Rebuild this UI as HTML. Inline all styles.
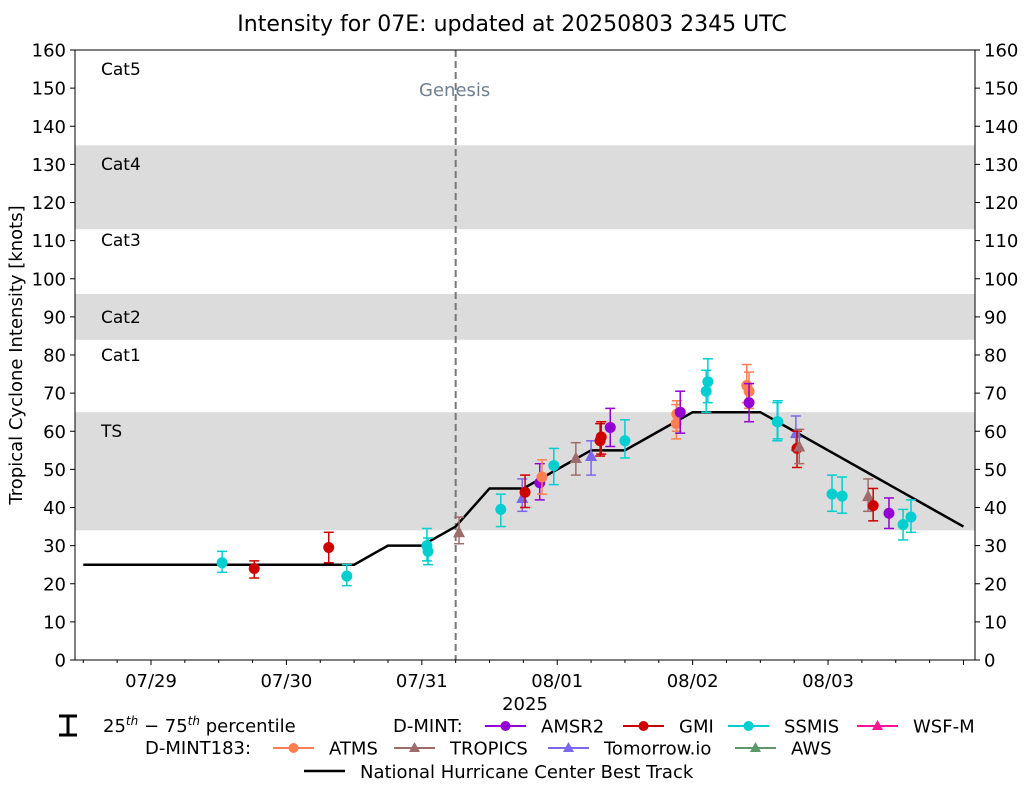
<!DOCTYPE html>
<html><head><meta charset="utf-8"><style>
body{margin:0;background:#fff;}
svg{display:block;font-family:"DejaVu Sans","Liberation Sans",sans-serif;}
</style></head><body>
<svg id="chart" width="1025" height="785" xmlns="http://www.w3.org/2000/svg"></svg>
<script>
// hours since 07/29 00Z
const bestTrackHours=[-12,36,42,48,54,60,66,72,78,84,90,96,102,108,114,120,126,132,138,144];
const bestTrackValues=[25,25,30,30,35,45,45,50,55,55,60,65,65,65,60,55,50,45,40,35];
const obsSensor=['SSMIS','GMI','GMI','SSMIS','SSMIS','SSMIS','TROPICS','SSMIS','Tomorrow.io','GMI','AMSR2','ATMS','SSMIS','TROPICS','Tomorrow.io','GMI','GMI','AMSR2','SSMIS','ATMS','ATMS','AMSR2','SSMIS','SSMIS','ATMS','ATMS','AMSR2','SSMIS','SSMIS','Tomorrow.io','GMI','TROPICS','SSMIS','SSMIS','TROPICS','GMI','AMSR2','SSMIS','SSMIS'];
const obsHours=[12.6,18.3,31.5,34.7,48.9,49.1,54.6,62.0,65.8,66.3,68.9,69.3,71.4,75.3,78.0,79.6,79.8,81.4,84.0,93.1,93.2,93.8,98.4,98.7,105.6,106.0,106.0,111.0,111.1,114.3,114.5,114.9,120.7,122.5,127.1,128.0,130.8,133.3,134.7];
const obsValues=[25.5,24,29.5,22,30,28.5,33.5,39.5,42.5,44,46.5,48,51,53,53.5,57.5,58.5,61,57.5,62,64.5,65,70.5,73,72,70.5,67.5,62.5,62.5,59.5,55.5,56,43.5,43,43,40.5,38.5,35.5,37.5];
const obsLow=[23,21.5,25.5,19.5,26,25,30.5,35,39,40,42,43.5,46,48.5,48.5,53.5,54,56,53,58,60,59.5,65,67.5,67.5,66,62.5,57.5,58,55,50.5,51.5,39,38.5,39,36.5,34.5,31.5,33.5];
const obsHigh=[28.5,26,33.5,25,34.5,32,37.5,43.5,47.5,48.5,51.5,52.5,55.5,57,57.5,62,62.5,66,63,67,68,70.5,76,79,77.5,75.5,72.5,67.5,68,64,60,60.5,48.5,48,47.5,45,42.5,39.5,42];
const dayLabels=['07/29','07/30','07/31','08/01','08/02','08/03'];
const yTicks=[0,10,20,30,40,50,60,70,80,90,100,110,120,130,140,150,160];
const genesisHour=54;

const NS='http://www.w3.org/2000/svg';
const svg=document.getElementById('chart');
const L=75,R=975,T=50,B=660;
const FS=18;
const X=h=>151+h*5.642;
const Y=v=>B-(v/160)*(B-T);
const colors={'AMSR2':'#9400d3','GMI':'#cc0000','SSMIS':'#00ced1','WSF-M':'#ff1493','ATMS':'#ff7f50','TROPICS':'#9e6d6b','Tomorrow.io':'#7b68ee','AWS':'#5b9a68'};
const tri={'TROPICS':1,'Tomorrow.io':1,'AWS':1,'WSF-M':1};
function el(tag,a,p){const e=document.createElementNS(NS,tag);for(const k in a)e.setAttribute(k,a[k]);(p||svg).appendChild(e);return e;}
function txt(s,x,y,a,p){const e=el('text',Object.assign({x:x,y:y,'font-size':FS,fill:'#000'},a||{}),p);e.textContent=s;return e;}

const bands=[[34,65],[84,96],[113,135]];
bands.forEach(b=>{const r=el('rect',{x:L,y:Y(b[1]),width:R-L,height:Y(b[0])-Y(b[1]),fill:'#dcdcdc'});
});
const cats=[['Cat5',69],['Cat4',164],['Cat3',240],['Cat2',317],['Cat1',355],['TS',431]];
cats.forEach(c=>{const t=txt(c[0],101,c[1]+6,{'font-size':17});});

const g=el('line',{x1:X(genesisHour),x2:X(genesisHour),y1:T,y2:B,stroke:'#777','stroke-width':2,'stroke-dasharray':'7,4'});

const gt=txt('Genesis',X(genesisHour)-1,96,{'font-size':18,fill:'#708090','text-anchor':'middle'});


const bt=el('polyline',{points:bestTrackHours.map((h,i)=>X(h)+','+Y(bestTrackValues[i])).join(' '),fill:'none',stroke:'#000','stroke-width':2.5});


obsHours.forEach((h,i)=>{
  const c=colors[obsSensor[i]],x=X(h);
  const gg=el('g',{});
  
  
  el('line',{x1:x,x2:x,y1:Y(obsLow[i]),y2:Y(obsHigh[i]),stroke:c,'stroke-width':1.5},gg);
  el('line',{x1:x-5,x2:x+5,y1:Y(obsLow[i]),y2:Y(obsLow[i]),stroke:c,'stroke-width':1.5},gg);
  el('line',{x1:x-5,x2:x+5,y1:Y(obsHigh[i]),y2:Y(obsHigh[i]),stroke:c,'stroke-width':1.5},gg);
  const y=Y(obsValues[i]);
  if(tri[obsSensor[i]]) el('polygon',{points:`${x},${y-6.5} ${x-6},${y+5} ${x+6},${y+5}`,fill:c},gg);
  else el('circle',{cx:x,cy:y,r:5.5,fill:c},gg);
});

const fr=el('rect',{x:L,y:T,width:R-L,height:B-T,fill:'none',stroke:'#000','stroke-width':1});

yTicks.forEach(v=>{
  const y=Y(v);
  el('line',{x1:L-5,x2:L,y1:y,y2:y,stroke:'#000'});
  el('line',{x1:R,x2:R+5,y1:y,y2:y,stroke:'#000'});
  const a=txt(String(v),L-9,y+6.5,{'text-anchor':'end'});
  const b=txt(String(v),R+9,y+6.5);
});
for(let h=-24;h<=150;h+=6){const x=X(h);if(x<L||x>R)continue;
  const major=h%24===0;
  el('line',{x1:x,x2:x,y1:B,y2:B+(major?5:3),stroke:'#000'});}
dayLabels.forEach((d,i)=>{const t=txt(d,X(i*24),B+27,{'text-anchor':'middle'});});
const xt=txt('2025',525,710,{'text-anchor':'middle'});
const yt=txt('Tropical Cyclone Intensity [knots]',0,6,{'text-anchor':'middle',transform:'translate(16,355) rotate(-90)'});

const tt=txt('Intensity for 07E: updated at 20250803 2345 UTC',512,31,{'text-anchor':'middle','font-size':22});


const lg=el('g',{});
el('line',{x1:68,x2:68,y1:716,y2:735,stroke:'#000','stroke-width':3},lg);
el('line',{x1:59,x2:77,y1:716,y2:716,stroke:'#000','stroke-width':3},lg);
el('line',{x1:59,x2:77,y1:735,y2:735,stroke:'#000','stroke-width':3},lg);
const pt=txt('',103,732,{},lg);pt.innerHTML='25<tspan font-size="12" dy="-7" font-style="italic">th</tspan><tspan dy="7"> − 75</tspan><tspan font-size="12" dy="-7" font-style="italic">th</tspan><tspan dy="7"> percentile</tspan>';
txt('D-MINT:',393,732,{},lg);
txt('D-MINT183:',145,754,{},lg);
const entries=[['AMSR2',485,726],['GMI',623,726],['SSMIS',728,726],['WSF-M',857,726],['ATMS',273,748],['TROPICS',394,748],['Tomorrow.io',548,748],['AWS',735,748]];
entries.forEach(e=>{const c=colors[e[0]];const gg=el('g',{},lg);
  
  
  el('line',{x1:e[1],x2:e[1]+41,y1:e[2],y2:e[2],stroke:c,'stroke-width':2},gg);
  const cx=e[1]+20.5;
  if(tri[e[0]]) el('polygon',{points:`${cx},${e[2]-6} ${cx-5.5},${e[2]+4} ${cx+5.5},${e[2]+4}`,fill:c},gg);
  else el('circle',{cx:cx,cy:e[2],r:5,fill:c},gg);
  txt(e[0],e[1]+56,e[2]+6.5,{},gg);});
const bg=el('g',{},lg);
el('line',{x1:304,x2:345,y1:771,y2:771,stroke:'#000','stroke-width':2.5},bg);
txt('National Hurricane Center Best Track',360,778,{},bg);
</script>
</body></html>
